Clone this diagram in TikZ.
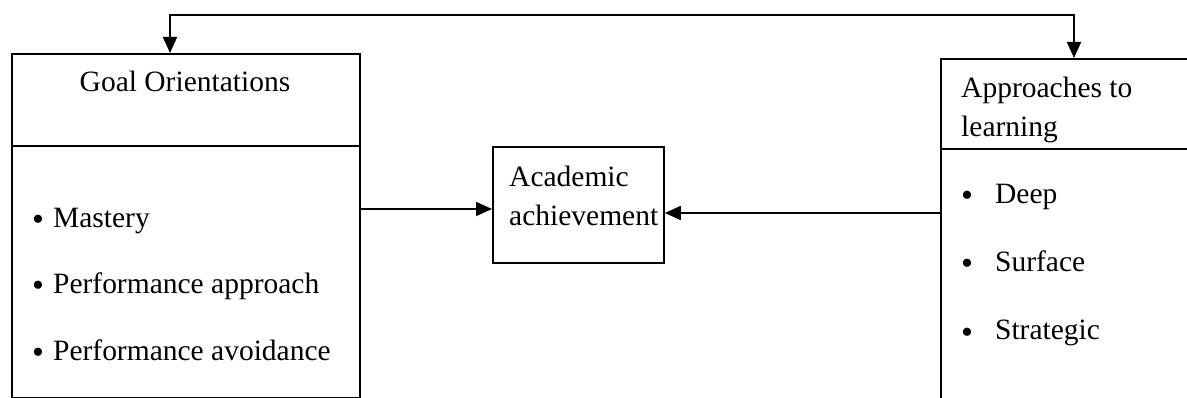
\documentclass[tikz,border=0pt]{standalone}
\usepackage{fontspec}
\setmainfont{Liberation Serif}
\usetikzlibrary{arrows.meta}
\newcommand{\mybul}{\raisebox{-3pt}{\fontsize{34}{34}\selectfont\textbullet}}
\tikzset{
  box/.style={draw, line width=1.8pt, anchor=north west, inner sep=0pt},
  txt/.style={inner sep=0pt, anchor=west, font=\fontsize{29.5}{39}\selectfont, text height=20pt, text depth=6pt},
  tip/.tip={Triangle[length=16pt,width=14pt]},
  arr/.style={line width=1.8pt, -tip},
  arrboth/.style={line width=1.8pt, tip-tip}
}
\begin{document}
\begin{tikzpicture}[x=1pt,y=-1pt]
\useasboundingbox (0,0) rectangle (1187,398);
% left box
\node[box, minimum width=348pt, minimum height=92pt] (gohead) at (11,53) {};
\node[box, minimum width=348pt, minimum height=252pt] (golist) at (11,145) {};
\node[txt, anchor=center] (gotitle) at (185,85) {Goal Orientations};
\node[txt] (g1) at (32,221) {\mybul\hspace{9pt}Mastery};
\node[txt] (g2) at (32,287) {\mybul\hspace{9pt}Performance approach};
\node[txt] (g3) at (32,353) {\mybul\hspace{9pt}Performance avoidance};
% middle box
\node[box, minimum width=171pt, minimum height=116pt] (acad) at (492,146) {};
\node[txt, align=left, anchor=north west, text height=, text depth=] (acadtxt) at (509,166) {Academic\\achievement};
% right box
\node[box, minimum width=260pt, minimum height=90pt] (aphead) at (940,58) {};
\node[box, minimum width=260pt, minimum height=260pt] (aplist) at (940,148) {};
\node[txt, align=left, anchor=north west, text height=, text depth=] (aptitle) at (961,77) {Approaches to\\learning};
\node[txt] (a1) at (961,197) {\mybul\hspace{22pt}Deep};
\node[txt] (a2) at (961,265) {\mybul\hspace{22pt}Surface};
\node[txt] (a3) at (961,333) {\mybul\hspace{22pt}Strategic};
% connectors
\coordinate (tl) at (170,15);
\coordinate (tr) at (1074,15);
\draw[arrboth] (gohead.north -| tl) -- (tl) -- (tr) -- (aphead.north -| tr);
\coordinate (ml) at (0,209);
\coordinate (mr) at (0,213);
\draw[arr] (golist.east |- ml) -- (acad.west |- ml);
\draw[arr] (aplist.west |- mr) -- (acad.east |- mr);
\end{tikzpicture}
\end{document}
